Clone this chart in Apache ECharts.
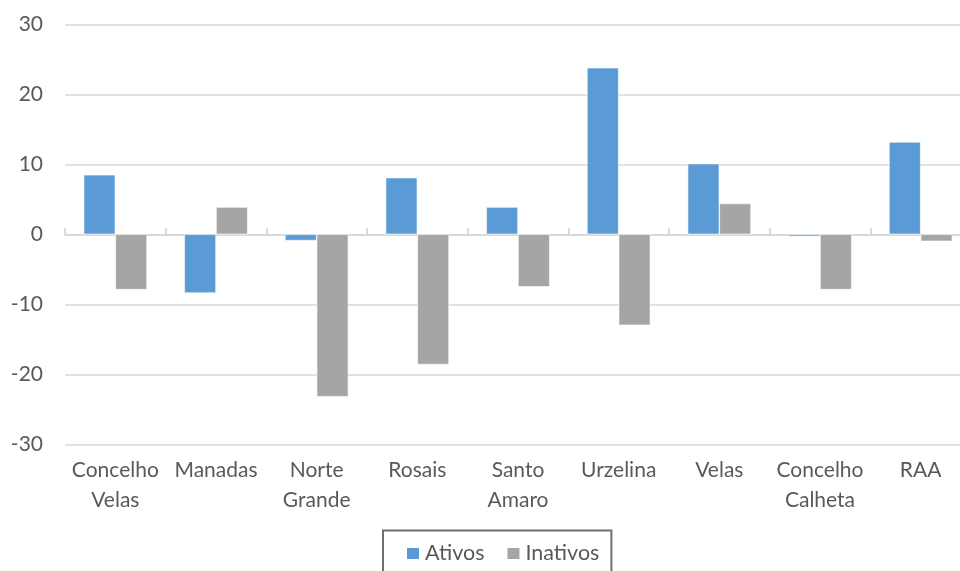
<!DOCTYPE html>
<html>
<head>
<meta charset="utf-8">
<script src="https://cdn.jsdelivr.net/npm/echarts@6/dist/echarts.min.js"></script>
<style>
html,body{margin:0;padding:0;background:#fff;}
#c{width:960px;height:571px;}
</style>
</head>
<body>
<div id="c"></div>
<script>
const categories = ["Concelho\nVelas", "Manadas", "Norte\nGrande", "Rosais", "Santo\nAmaro", "Urzelina", "Velas", "Concelho\nCalheta", "RAA"];
const ativos = [8.5, -8.4, -0.9, 8.1, 3.9, 23.8, 10.1, -0.3, 13.2];
const inativos = [-7.9, 3.9, -23.2, -18.6, -7.5, -13.0, 4.4, -7.9, -1.0];
const yTicks = { min: -30, max: 30, interval: 10 };

const font = 'Lato, "Open Sans", sans-serif';
const chart = echarts.init(document.getElementById('c'), null, { renderer: 'canvas' });
chart.setOption({
  animation: false,
  backgroundColor: '#ffffff',
  textStyle: { fontFamily: font },
  grid: { left: 65, width: 906, top: 24.3, height: 420, containLabel: false, outerBoundsMode: 'none' },
  legend: {
    data: ['Ativos', 'Inativos'],
    left: 383, top: 530.5,
    padding: [12, 12, 30, 22],
    itemGap: 21,
    itemWidth: 14, itemHeight: 13,
    icon: 'rect',
    borderColor: '#6e6e6e', borderWidth: 2,
    textStyle: { fontFamily: font, fontSize: 21.5, color: '#595959', padding: [0, 0, 0, 0] }
  },
  xAxis: [
    {
      type: 'category', data: categories, position: 'bottom',
      axisLine: { show: false, onZero: false },
      axisTick: { show: false },
      axisLabel: { interval: 0, fontFamily: font, fontSize: 21, color: '#595959', lineHeight: 30, margin: 11 },
      splitLine: { show: false }
    },
    {
      type: 'category', data: categories, position: 'bottom',
      axisLine: { show: true, onZero: true, lineStyle: { color: '#d9d9d9', width: 2 } },
      axisTick: { show: true, inside: true, length: 6, interval: 0, lineStyle: { color: '#d9d9d9', width: 2 } },
      axisLabel: { show: false },
      splitLine: { show: false }
    }
  ],
  yAxis: {
    type: 'value', min: yTicks.min, max: yTicks.max, interval: yTicks.interval,
    axisLine: { show: false }, axisTick: { show: false },
    axisLabel: { fontFamily: font, fontSize: 21, color: '#595959', margin: 22 },
    splitLine: { lineStyle: { color: '#d9d9d9', width: 1.5 } }
  },
  series: [
    {
      name: 'Ativos', type: 'bar', data: ativos, xAxisIndex: 0,
      barGap: '0%', barCategoryGap: '37%',
      itemStyle: { color: '#5b9bd5', borderColor: '#ffffff', borderWidth: 0.6 }
    },
    {
      name: 'Inativos', type: 'bar', data: inativos, xAxisIndex: 0,
      barGap: '0%', barCategoryGap: '37%',
      itemStyle: { color: '#a5a5a5', borderColor: '#ffffff', borderWidth: 0.6 }
    }
  ]
});
</script>
</body>
</html>
